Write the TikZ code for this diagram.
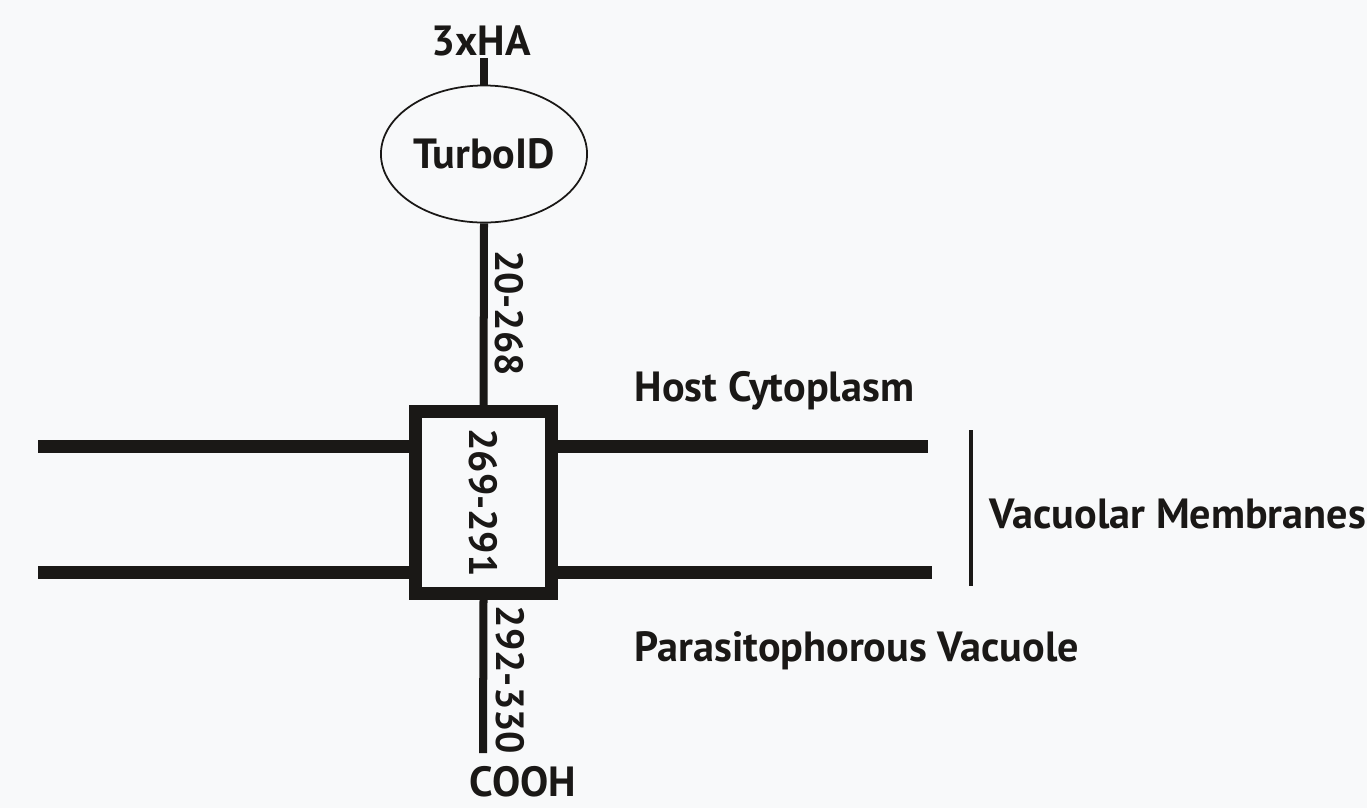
\documentclass[tikz,border=0pt]{standalone}
\usepackage{fontspec}
\setmainfont{PT Sans}
\usepackage{xcolor}
\usepackage{tikz}
\usetikzlibrary{positioning,shapes.geometric}
\definecolor{bgpaper}{RGB}{248,249,250}
\definecolor{inkblack}{RGB}{26,24,22}
\tikzset{
  lbl/.style    ={font=\bfseries\fontsize{12}{14}\selectfont, text=inkblack,
                  inner sep=0pt},
  numlbl/.style ={lbl, font=\bfseries\fontsize{11.2}{13}\selectfont},
  vlbl/.style   ={numlbl, rotate=-90},
  tmbox/.style  ={draw=inkblack, line width=0.13cm, minimum width=1.35cm,
                  minimum height=1.81cm, inner sep=0pt, numlbl},
  tidnode/.style={ellipse, draw=inkblack, line width=0.5pt, lbl,
                  minimum width=2.06cm, minimum height=1.37cm, inner sep=0pt},
  stem/.style   ={draw=inkblack, line width=0.08cm},
  memb/.style   ={draw=inkblack, line width=0.13cm},
  brk/.style    ={draw=inkblack, line width=0.045cm},
}

\begin{document}
\begin{tikzpicture}[x=0.01cm,y=-0.01cm]
  \fill[bgpaper] (0,0) rectangle (1367,808);
  \useasboundingbox (0,0) rectangle (1367,808);
  \node[tidnode] (tid) at (484,154) {TurboID};
  \node[lbl, anchor=base] (ha) at (481,55) {3xHA};
  \node[tmbox] (tm) at (483.5,502.5) {\rotatebox{-90}{269-291}};
  \node[vlbl] (ext) at (509,313) {20-268};
  \node[vlbl] (cyt) at (510,680) {292-330};
  \node[lbl, anchor=base] (cooh) at (523,796) {COOH};
  \coordinate (cend) at (483,753);
  \draw[stem] (tid.north) -- (tid.north |- 0,58);
  \draw[stem] (tid.south) -- (tm.north);
  \draw[stem] (tm.south) -- (cend);
  % membranes
  \coordinate (mul) at (38,446);
  \coordinate (mur) at (928,446);
  \coordinate (mll) at (38,572);
  \coordinate (mlr) at (932,572);
  \draw[memb] (mul) -- (mul -| tm.west);
  \draw[memb] (tm.east |- mur) -- (mur);
  \draw[memb] (mll) -- (mll -| tm.west);
  \draw[memb] (tm.east |- mlr) -- (mlr);
  \coordinate (btop) at (971,430);
  \coordinate (bbot) at (971,586);
  \draw[brk] (btop) -- (bbot);
  \node[lbl, anchor=base west] (host) at (634,401) {Host Cytoplasm};
  \node[lbl, anchor=base west] (vmem) at (989,528) {Vacuolar Membranes};
  \node[lbl, anchor=base west] (pv) at (634,661) {Parasitophorous Vacuole};
\end{tikzpicture}
\end{document}
